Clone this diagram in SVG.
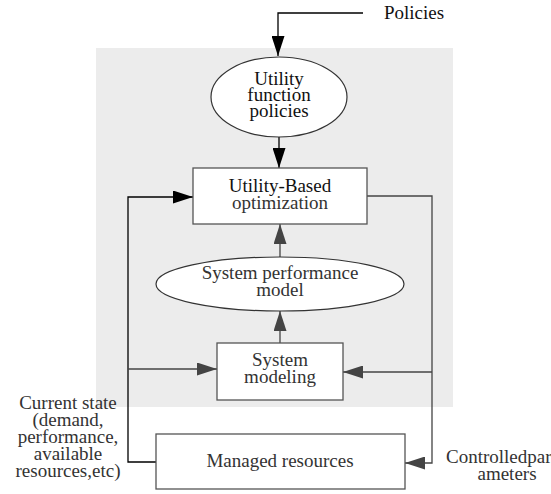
<svg xmlns="http://www.w3.org/2000/svg" width="551" height="494" viewBox="0 0 551 494">
<defs>
<marker id="ab" markerUnits="userSpaceOnUse" markerWidth="20" markerHeight="13" refX="20" refY="6.5" orient="auto"><path d="M0,0 L20,6.5 L0,13 z" fill="#000"/></marker>
<marker id="ag" markerUnits="userSpaceOnUse" markerWidth="20" markerHeight="13" refX="20" refY="6.5" orient="auto"><path d="M0,0 L20,6.5 L0,13 z" fill="#444"/></marker>
</defs>
<style>
text{font-family:"Liberation Serif","Times New Roman",serif;font-size:19px;fill:#333;text-anchor:middle}
.box{fill:#fff;stroke:#555;stroke-width:1.3}
.ell{fill:#fff;stroke:#333;stroke-width:1.2}
.ln{fill:none;stroke:#444;stroke-width:1.3}
.lb{fill:none;stroke:#000;stroke-width:1.3}
.dk{fill:#111}
</style>
<rect x="96" y="48" width="357" height="359" fill="#ececec"/>
<g id="connectors">
<path class="lb" d="M363,13 H278 V56" marker-end="url(#ab)"/>
<path class="lb" d="M279,137 V168" marker-end="url(#ab)"/>
<path class="lb" d="M156,462 H128 V197 H193" marker-end="url(#ab)"/>
<path class="ln" d="M128,369 H217" marker-end="url(#ag)"/>
<path class="ln" d="M367,196 H432 V463 H405" marker-end="url(#ag)"/>
<path class="ln" d="M432,372 H343" marker-end="url(#ag)"/>
<path class="ln" d="M280,257 V224" marker-end="url(#ag)"/>
<path class="ln" d="M280,343 V311" marker-end="url(#ag)"/>
</g>
<g id="policies"><text class="dk" x="414" y="19">Policies</text></g>
<g id="utility-function-policies">
<ellipse class="ell" cx="279" cy="97" rx="68" ry="40"/>
<text class="dk" x="279" y="85">Utility</text>
<text class="dk" x="279" y="101">function</text>
<text class="dk" x="279" y="117">policies</text>
</g>
<g id="utility-based-optimization">
<rect class="box" x="193" y="168" width="174" height="56"/>
<text class="dk" x="280" y="192">Utility-Based</text>
<text x="280" y="209">optimization</text>
</g>
<g id="system-performance-model">
<ellipse class="ell" cx="280" cy="284" rx="124" ry="27"/>
<text x="280" y="279">System performance</text>
<text x="280" y="296">model</text>
</g>
<g id="system-modeling">
<rect class="box" x="217" y="343" width="126" height="57"/>
<text x="280" y="366">System</text>
<text x="280" y="383">modeling</text>
</g>
<g id="managed-resources">
<rect class="box" x="156" y="434" width="249" height="55"/>
<text x="280" y="467">Managed resources</text>
</g>
<g id="current-state-label">
<text x="68" y="409">Current state</text>
<text x="68" y="426">(demand,</text>
<text x="68" y="443">performance,</text>
<text x="68" y="460">available</text>
<text x="68" y="477">resources,etc)</text>
</g>
<g id="controlled-parameters-label">
<text x="446" y="463" style="text-anchor:start">Controlledpar</text>
<text x="507" y="480">ameters</text>
</g>
</svg>
